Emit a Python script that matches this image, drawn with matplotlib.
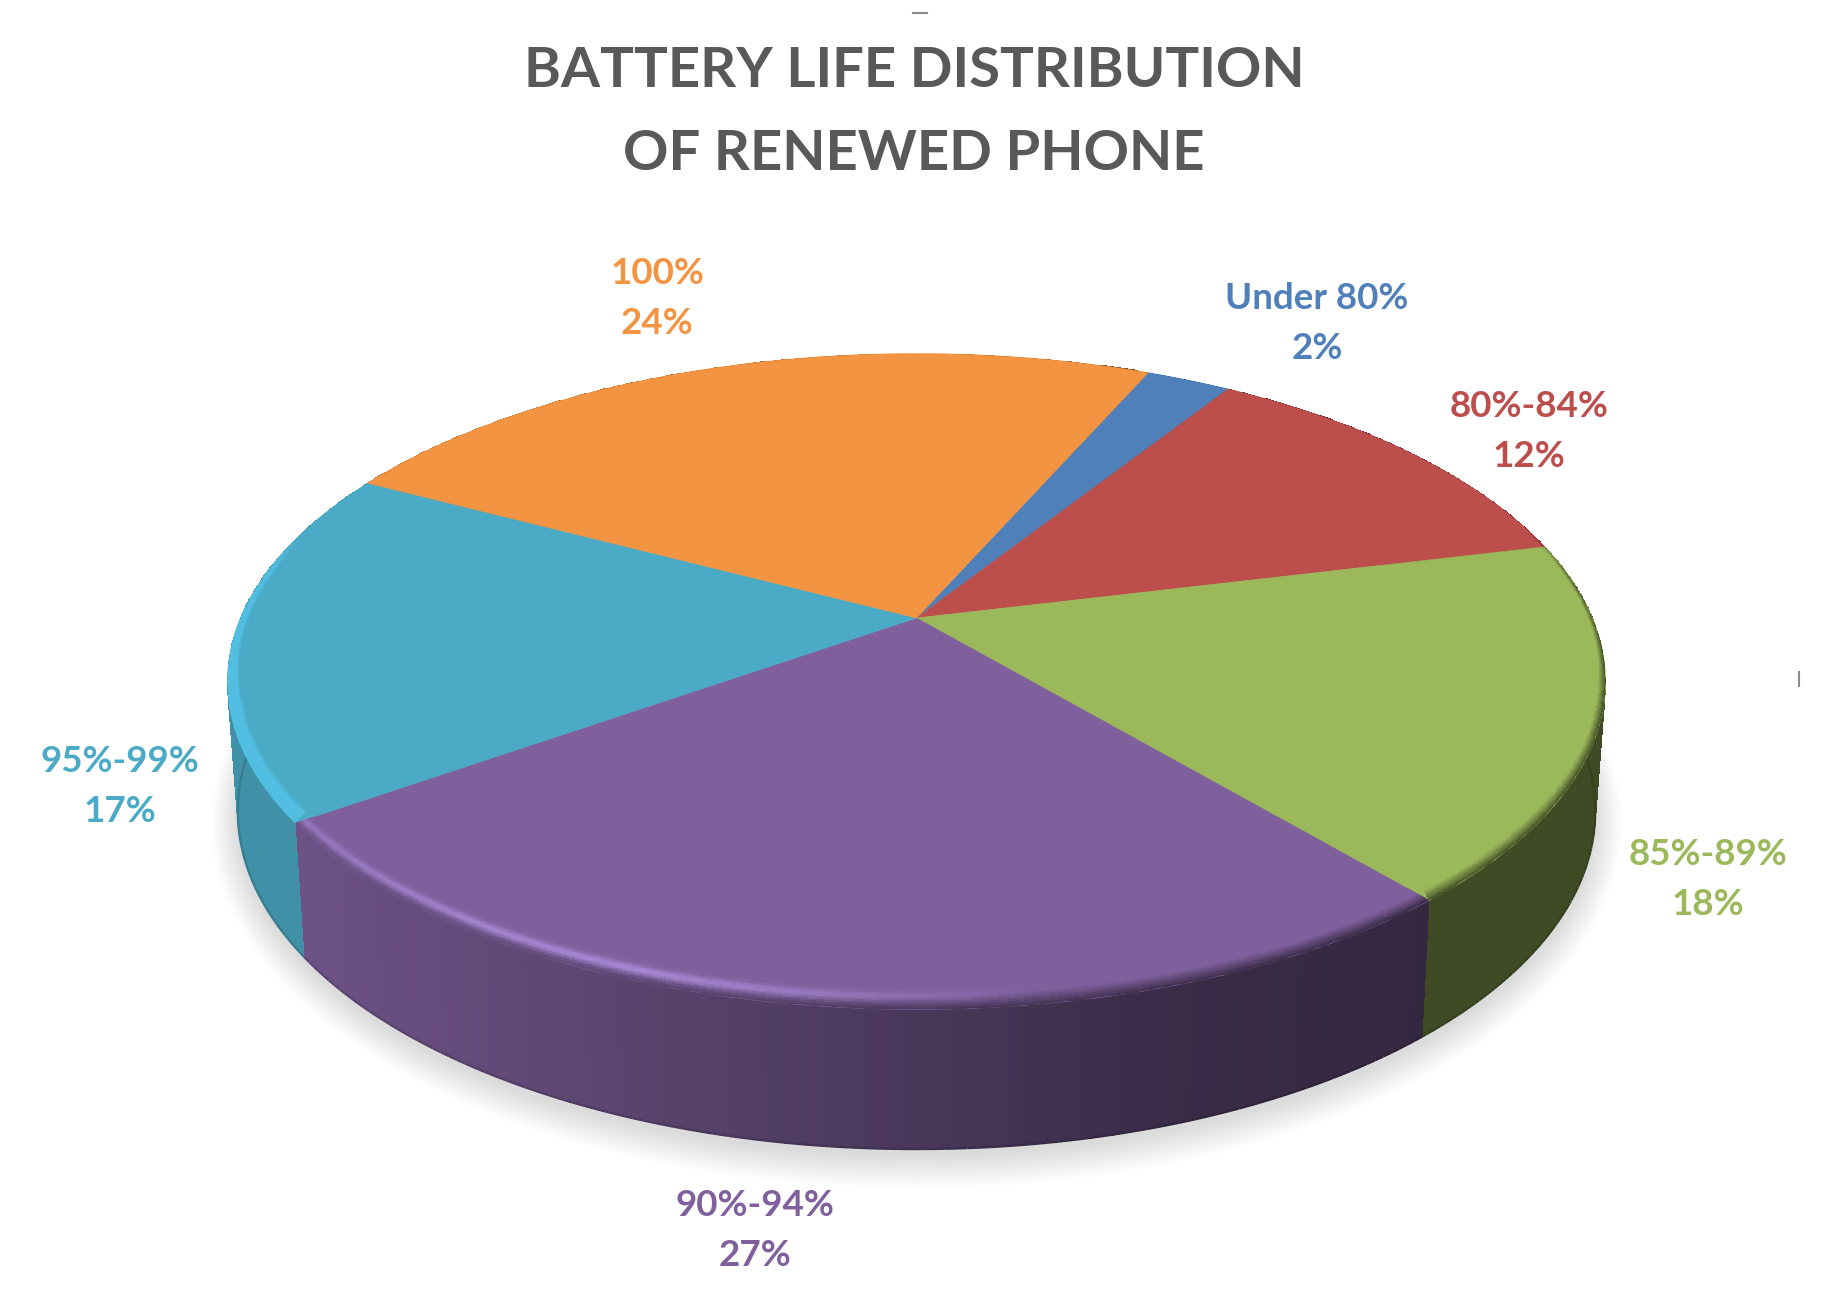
import numpy as np
import matplotlib
import matplotlib.pyplot as plt
from matplotlib.collections import LineCollection
from matplotlib.colors import to_rgb

matplotlib.use('Agg')

plt.rcParams['font.family'] = ['Lato', 'DejaVu Sans']

title_lines = ['BATTERY LIFE DISTRIBUTION', 'OF RENEWED PHONE']
categories = ['Under 80%', '80%-84%', '85%-89%', '90%-94%', '95%-99%', '100%']
# slice sizes, the printed labels are rounded
shares = [2.4, 12.2, 17.6, 26.4, 17.5, 23.9]
percent_labels = ['2%', '12%', '18%', '27%', '17%', '24%']
colors = ['#4F80B9', '#BC4E4C', '#9BB85A', '#7F609D', '#4BAAC5', '#F29442']
highlights = ['#4F80B9', '#BC4E4C', '#9BB85A', '#B997EA', '#52BEE2', '#F29442']

# label centres in pixels (name line, percent line is below)
label_pos = [(1317, 298), (1529, 406), (1708, 854), (755, 1206), (120, 761), (657, 273)]
label_gap = 50

# projection of the pie disc, in pixels of the picture
cx, cy = 916.5, 618.0
rx, ry = 676.0, 315.6
persp = 0.1936
depth = 128.0
start_angle = 23.8

W, H = 1826, 1299


# theta in degrees, clockwise from the back of the pie
def rim(theta, scale_x=1.0, scale_y=1.0, shift_y=0.0):
    t = np.radians(theta)
    u, v = np.sin(t), np.cos(t)
    w = 1 + persp * v
    return cx + scale_x * rx * u / w, cy + shift_y - scale_y * ry * v / w


def wall_shade(x):
    return np.interp(x, [300, 916, 1150, 1430, 1610], [0.85, 0.58, 0.46, 0.41, 0.41])


def highlight_amount(x):
    return np.interp(x, [300, 480, 640, 800, 980, 1040], [0.55, 0.9, 1.0, 0.7, 0.25, 0.0])


fig = plt.figure(figsize=(W / 100, H / 100), dpi=100)
ax = fig.add_axes([0, 0, 1, 1])
ax.set_xlim(0, W)
ax.set_ylim(H, 0)
ax.axis('off')

# soft shadow under the pie
full = np.linspace(0, 360, 361)
for grow in np.linspace(26, 0, 18):
    sx, sy = rim(full, 0.985 + grow / rx, 1.03 + grow / ry, depth + 7)
    ax.fill(sx, sy, color='black', alpha=0.0075, lw=0, zorder=1)

edges = start_angle + np.cumsum([0] + shares) * 3.6

# walls first, the top face covers whatever is behind it
for i in range(len(shares)):
    theta = np.linspace(edges[i], edges[i + 1], 120)
    base = np.array(to_rgb(colors[i]))
    xt, yt = rim(theta)
    xb, yb = rim(theta, 0.985, 1.03, depth)
    X = np.vstack([xt, xb])
    Y = np.vstack([yt, yb])
    mid_x = (xt[:-1] + xt[1:]) / 2
    rgb = np.outer(wall_shade(mid_x), base)[np.newaxis, :, :]
    ax.pcolormesh(X, Y, rgb, shading='flat', antialiased=False, zorder=2)
    # smooth, slightly darker line along the bottom edge
    points = np.column_stack([xb, yb])
    segments = np.stack([points[:-1], points[1:]], axis=1)
    ax.add_collection(LineCollection(segments, colors=rgb[0] * 0.85, linewidths=1.6, zorder=2.5))

# flat top of each slice, bevel along the rim where it faces the viewer
for i in range(len(shares)):
    theta = np.linspace(edges[i], edges[i + 1], 160)
    base = np.array(to_rgb(colors[i]))
    light = np.array(to_rgb(highlights[i]))
    x0, y0 = rim(theta)
    top = ax.fill(np.r_[cx, x0], np.r_[cy, y0], color=colors[i], lw=0.4, zorder=3)[0]

    hs = np.linspace(0, 1, 15)
    fade = np.clip((y0 - 530) / 180, 0, 1)
    X = np.zeros((len(hs), len(theta)))
    Y = np.zeros((len(hs), len(theta)))
    for j, h in enumerate(hs):
        X[j] = cx + (x0 - cx) * (1 - 0.02 * h * (0.3 + 0.7 * fade))
        Y[j] = cy + (y0 - cy) * (1 - 0.065 * h * (0.3 + 0.7 * fade))
    mid_x = (x0[:-1] + x0[1:]) / 2
    mid_fade = (fade[:-1] + fade[1:]) / 2
    rgba = np.zeros((len(hs) - 1, len(theta) - 1, 4))
    mid_h = (hs[:-1] + hs[1:]) / 2
    for j, h in enumerate(mid_h):
        if colors[i] == '#4BAAC5':
            # teal band is flat and ends sharply on the top face
            bump = np.clip((1 - h) / 0.25, 0, 1) * np.ones_like(mid_x)
            col = base + np.outer(bump, light - base)
        else:
            bump = np.exp(-((h - 0.42) / 0.22) ** 2)
            col = base + np.outer(highlight_amount(mid_x) * bump, light - base)
            dark = np.outer(wall_shade(mid_x), base)
            ramp = np.clip(1 - h / 0.6, 0, 1) ** 1.1
            col = col + ramp * (dark - col)
        rgba[j, :, :3] = np.clip(col, 0, 1)
        rgba[j, :, 3] = np.clip(mid_fade * 2.2, 0, 1)
    mesh = ax.pcolormesh(X, Y, rgba, shading='flat', antialiased=False, zorder=4)
    mesh.set_clip_path(top)

# title
ax.text(914, 71, title_lines[0], color='#595959', fontsize=40.5, fontweight='bold', ha='center', va='center')
ax.text(914, 154, title_lines[1], color='#595959', fontsize=40.5, fontweight='bold', ha='center', va='center')

# data labels
for i in range(len(shares)):
    lx, ly = label_pos[i]
    ax.text(lx, ly, categories[i], color=colors[i], fontsize=26.5, fontweight='bold', ha='center', va='center', zorder=6)
    ax.text(lx, ly + label_gap, percent_labels[i], color=colors[i], fontsize=26.5, fontweight='bold',
            ha='center', va='center', zorder=6)

# two small leftover handles of the chart selection
ax.plot([913, 927], [13, 13], color='#8a8a8a', lw=1.5)
ax.plot([1799, 1799], [672, 686], color='#8a8a8a', lw=1.5)

fig.savefig('out.png', dpi=100, facecolor='white')
